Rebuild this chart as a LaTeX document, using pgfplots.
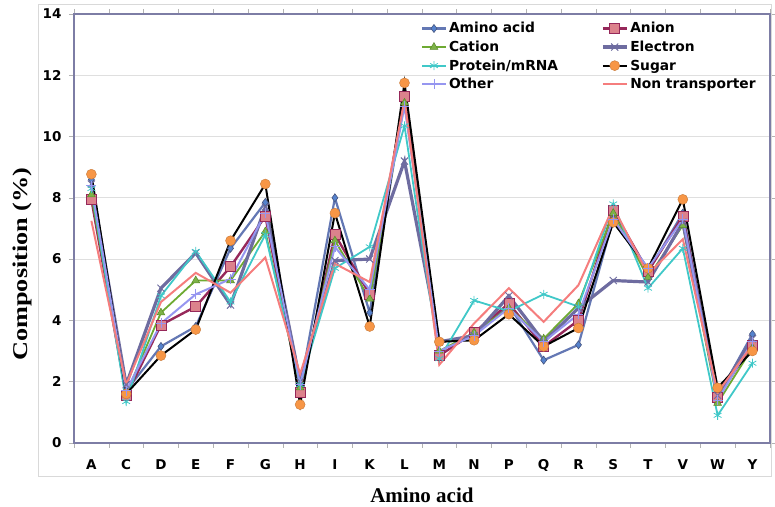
\documentclass[border=0pt]{standalone}
\usepackage{pgfplots}
\pgfplotsset{compat=1.18}
\usepackage{pgfplotstable}
\usepackage{fontspec}
\setmainfont{Liberation Serif}
\newfontfamily\lsans{DejaVu Sans}

\definecolor{framec}{RGB}{125,125,165}
\definecolor{aaline}{RGB}{100,120,180}
\definecolor{aafill}{RGB}{85,130,205}
\definecolor{anline}{RGB}{150,40,90}
\definecolor{anfill}{RGB}{220,130,140}
\definecolor{caline}{RGB}{110,170,50}
\definecolor{elline}{RGB}{110,108,160}
\definecolor{prline}{RGB}{64,200,200}
\definecolor{sufill}{RGB}{247,150,70}
\definecolor{otline}{RGB}{150,150,240}
\definecolor{ntline}{RGB}{245,125,125}

\pgfplotstableread{
x  aa    an    ca    el    pr    su    ot    nt
0  8.60  7.95  8.10  8.45  8.30  8.77  8.40  7.25
1  1.70  1.55  1.60  1.90  1.35  1.60  1.70  1.90
2  3.15  3.85  4.25  5.05  4.80  2.85  3.90  4.60
3  3.80  4.45  5.30  6.20  6.25  3.70  4.85  5.55
4  6.35  5.75  5.30  4.50  4.60  6.60  5.35  4.90
5  7.85  7.40  6.90  7.70  6.80  8.45  7.50  6.05
6  1.80  1.65  1.80  2.00  1.90  1.25  1.90  2.25
7  8.00  6.80  6.60  5.95  5.70  7.50  6.40  5.85
8  4.25  4.85  4.70  6.00  6.40  3.80  5.00  5.25
9  11.30 11.30 11.10 9.20  10.35 11.75 11.00 11.20
10 3.30  2.85  3.00  3.30  2.75  3.30  3.00  2.55
11 3.50  3.60  3.60  3.50  4.65  3.35  3.50  3.90
12 4.50  4.55  4.40  4.80  4.30  4.20  4.40  5.05
13 2.70  3.15  3.40  3.30  4.85  3.15  3.30  3.95
14 3.20  4.00  4.55  4.40  4.45  3.75  4.20  5.15
15 7.30  7.60  7.50  5.30  7.80  7.20  7.30  7.70
16 5.60  5.60  5.40  5.25  5.05  5.70  5.70  5.50
17 7.50  7.40  7.10  7.20  6.35  7.95  7.30  6.65
18 1.50  1.50  1.30  1.55  0.90  1.80  1.40  1.65
19 3.55  3.20  3.10  3.40  2.60  3.00  3.30  3.20
}\datatable

\begin{document}
\begin{tikzpicture}
\begin{axis}[
  name=ax,
  scale only axis,
  width=696pt, height=429pt,
  xmin=-0.5, xmax=19.5,
  ymin=0, ymax=14,
  xtick={0,...,19},
  xticklabels={A,C,D,E,F,G,H,I,K,L,M,N,P,Q,R,S,T,V,W,Y},
  minor xtick={-0.5,0.5,...,19.5},
  ytick={0,2,...,14},
  tick align=outside,
  major x tick style={draw=none},
  minor x tick style={draw=gray!60, thin},
  minor tick length=5pt,
  major tick length=5pt,
  y tick style={draw=gray!60, thin},
  ymajorgrids,
  major grid style={draw=gray!25, line width=0.8pt},
  axis line style={draw=framec, line width=1.8pt},
  /pgf/number format/assume math mode=true,
  tick label style={font=\lsans\bfseries\fontsize{13.5}{13.5}\selectfont},
  xticklabel style={yshift=-8pt},
  yticklabel style={xshift=-4pt},
  xlabel={\bfseries Amino acid},
  ylabel={\bfseries\scalebox{1.25}[1]{Composition (\%)}},
  xlabel style={font=\fontsize{21}{21}\selectfont, at={(axis description cs:0.5,-0.14)}, anchor=base},
  ylabel style={font=\fontsize{21}{21}\selectfont, at={(axis description cs:-0.0675,0.417)}, anchor=base},
  legend columns=2,
  legend cell align=left,
  legend style={at={(axis description cs:0.494,0.99)}, anchor=north west, draw=none, fill=none,
    font=\lsans\bfseries\fontsize{13.8}{15}\selectfont, row sep=2.6pt,
    /tikz/every even column/.append style={column sep=41pt}},
  legend image code/.code={\draw[mark repeat=2,mark phase=2] plot coordinates {(0cm,0cm) (0.42cm,0cm) (0.84cm,0cm)};},
]
\addplot[aaline, line width=2.2pt, mark=diamond*, mark size=4pt, mark options={fill=aafill, draw=aaline!70!black, line width=0.6pt}] table[x=x,y=aa]{\datatable};
\addlegendentry{Amino acid}
\addplot[anline, line width=2.4pt, mark=square*, mark size=5pt, mark options={fill=anfill, draw=anline, line width=0.6pt}] table[x=x,y=an]{\datatable};
\addlegendentry{Anion}
\addplot[caline, line width=1.8pt, mark=triangle*, mark size=4.5pt, mark options={fill=caline!90!white, draw=caline!80!black, line width=0.5pt}] table[x=x,y=ca]{\datatable};
\addlegendentry{Cation}
\addplot[elline, line width=3.2pt, mark=x, mark size=5pt, mark options={draw=elline, line width=1pt}] table[x=x,y=el]{\datatable};
\addlegendentry{Electron}
\addplot[prline, line width=1.8pt, mark=asterisk, mark size=4.5pt, mark options={draw=prline, line width=0.8pt}] table[x=x,y=pr]{\datatable};
\addlegendentry{Protein/mRNA}
\addplot[black, line width=2pt, mark=*, mark size=5pt, mark options={fill=sufill, draw=sufill!80!black, line width=0.4pt}] table[x=x,y=su]{\datatable};
\addlegendentry{Sugar}
\addplot[otline, line width=2pt, mark=+, mark size=5pt, mark options={draw=otline, line width=0.8pt}] table[x=x,y=ot]{\datatable};
\addlegendentry{Other}
\addplot[ntline, line width=2pt, mark=none] table[x=x,y=nt]{\datatable};
\addlegendentry{Non transporter}
\end{axis}
\draw[gray!30, line width=0.6pt] ([xshift=-36pt,yshift=-33pt]ax.south west) rectangle ([xshift=1pt,yshift=10pt]ax.north east);
\path[use as bounding box] ([xshift=-74pt,yshift=-64pt]ax.south west) rectangle ([xshift=5pt,yshift=14pt]ax.north east);
\end{tikzpicture}
\end{document}
